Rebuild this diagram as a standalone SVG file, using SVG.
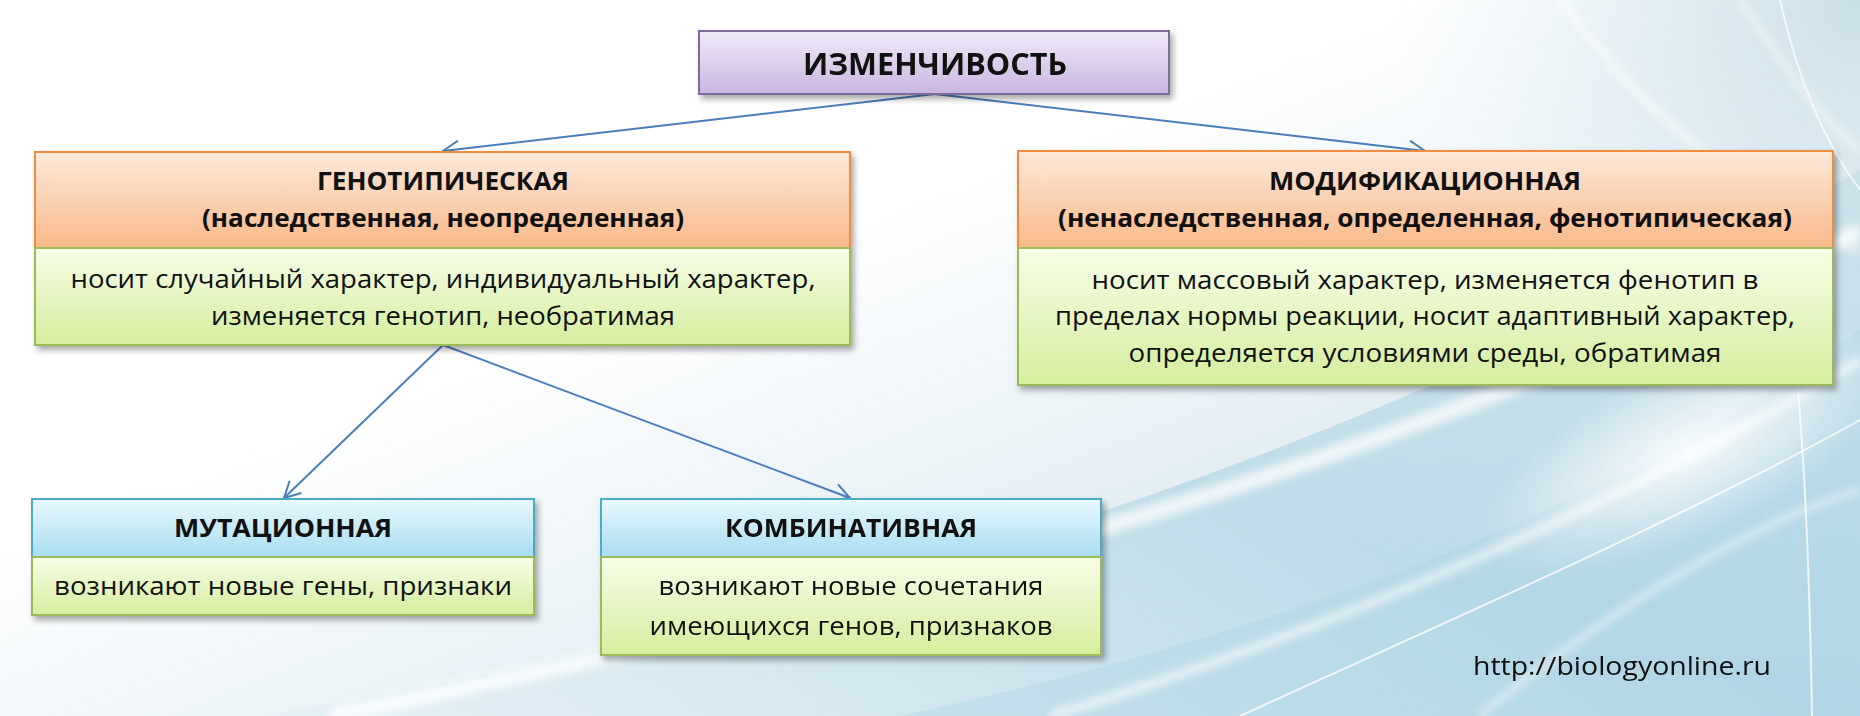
<svg xmlns="http://www.w3.org/2000/svg" width="1860" height="716" viewBox="0 0 1860 716">
<defs>
<style>
.t{font-family:"Open Sans","Liberation Sans",sans-serif;fill:#111;text-anchor:middle}
.b{font-weight:700}
.r{font-weight:400}
.conn{stroke:#4a7ebb;stroke-width:2;fill:none;marker-end:url(#ah)}
.sh{filter:url(#shadow)}
.pur{fill:url(#gPur);stroke:#7f6a9c;stroke-width:2}
.ora{fill:url(#gOra);stroke:#f08c40;stroke-width:2}
.grn{fill:url(#gGrn);stroke:#9bbb59;stroke-width:2}
.blu{fill:url(#gBlu);stroke:#4bacc6;stroke-width:2}
.streak{fill:none;stroke:#ffffff}
</style>
<marker id="ah" markerUnits="userSpaceOnUse" markerWidth="20" markerHeight="18" viewBox="0 0 20 18" refX="18" refY="9" orient="auto">
<path d="M2,0.5 L18,9 L2,17.5" fill="none" stroke="#4a7ebb" stroke-width="2"/>
</marker>
<filter id="shadow" x="-10%" y="-10%" width="120%" height="130%">
<feDropShadow dx="3" dy="4" stdDeviation="3" flood-color="#000" flood-opacity="0.35"/>
</filter>
<filter id="blur" x="-20%" y="-20%" width="140%" height="140%">
<feGaussianBlur stdDeviation="4"/>
</filter>
<linearGradient id="gPur" x1="0" y1="0" x2="0" y2="1"><stop offset="0" stop-color="#f2eafa"/><stop offset="1" stop-color="#c9b5de"/></linearGradient>
<linearGradient id="gOra" x1="0" y1="0" x2="0" y2="1"><stop offset="0" stop-color="#fde9da"/><stop offset="1" stop-color="#f8b98a"/></linearGradient>
<linearGradient id="gGrn" x1="0" y1="0" x2="0" y2="1"><stop offset="0" stop-color="#f7fde8"/><stop offset="1" stop-color="#d5ee9e"/></linearGradient>
<linearGradient id="gBlu" x1="0" y1="0" x2="0" y2="1"><stop offset="0" stop-color="#e9f8fd"/><stop offset="1" stop-color="#a8ddef"/></linearGradient>
<linearGradient id="bgBase" x1="0" y1="0" x2="1" y2="1"><stop offset="0" stop-color="#ffffff"/><stop offset="0.38" stop-color="#ffffff"/><stop offset="0.7" stop-color="#dfecf2"/><stop offset="1" stop-color="#bcd9e6"/></linearGradient>
<linearGradient id="band" x1="0" y1="1" x2="1" y2="0"><stop offset="0" stop-color="#e4f1f6"/><stop offset="0.5" stop-color="#b5d7e5"/><stop offset="1" stop-color="#c6dfe9"/></linearGradient>
<radialGradient id="glow" cx="0.5" cy="0.5" r="0.5"><stop offset="0" stop-color="#ffffff" stop-opacity="0.9"/><stop offset="1" stop-color="#ffffff" stop-opacity="0"/></radialGradient>
<radialGradient id="tint" cx="1" cy="0" r="1"><stop offset="0" stop-color="#c5dce6" stop-opacity="0.9"/><stop offset="1" stop-color="#dbeaf0" stop-opacity="0"/></radialGradient>
</defs>

<g id="background">
<rect width="1860" height="716" fill="url(#bgBase)"/>
<rect x="1400" y="0" width="460" height="420" fill="url(#tint)"/>
<path d="M260,716 C700,640 1250,520 1860,170 L1860,716 Z" fill="url(#band)" opacity="0.75"/>
<path d="M900,716 C1250,640 1600,520 1860,330 L1860,716 Z" fill="#a9d0e1" opacity="0.35"/>
<ellipse cx="1690" cy="450" rx="230" ry="85" fill="url(#glow)" transform="rotate(-25 1690 450)"/>
<g filter="url(#blur)">
<path class="streak" d="M330,716 C850,610 1400,470 1860,230" stroke-width="16" opacity="0.75"/>
<path class="streak" d="M1050,716 C1400,610 1680,470 1860,360" stroke-width="10" opacity="0.6"/>
<path class="streak" d="M1480,716 C1620,600 1760,520 1860,490" stroke-width="6" opacity="0.6"/>
<path class="streak" d="M1560,0 C1650,120 1760,210 1860,250" stroke-width="8" opacity="0.55"/>
<path class="streak" d="M1740,0 C1780,60 1820,120 1860,150" stroke-width="5" opacity="0.6"/>
</g>
<path class="streak" d="M1240,716 C1450,620 1680,520 1860,420" stroke-width="2" opacity="0.8"/>
<path class="streak" d="M1798,392 C1806,480 1810,600 1812,716" stroke-width="2" opacity="0.75"/>
<path class="streak" d="M1780,0 C1800,90 1830,150 1860,190" stroke-width="2" opacity="0.7"/>
</g>

<g id="connectors">
<line class="conn" x1="935" y1="94" x2="443" y2="151"/>
<line class="conn" x1="935" y1="94" x2="1425" y2="151"/>
<line class="conn" x1="443" y1="345" x2="284" y2="498"/>
<line class="conn" x1="443" y1="345" x2="850" y2="498"/>
</g>

<g id="node-izmenchivost">
<rect class="pur sh" x="699" y="31" width="470" height="63"/>
<text class="t b" x="935" y="75" font-size="30" textLength="264" lengthAdjust="spacingAndGlyphs">ИЗМЕНЧИВОСТЬ</text>
</g>

<g id="node-genotipicheskaya">
<rect class="grn sh" x="35" y="152" width="815" height="193"/>
<rect class="ora" x="35" y="152" width="815" height="96"/>
<rect class="grn" x="35" y="248" width="815" height="97"/>
<text class="t b" x="443" y="190" font-size="25" textLength="252" lengthAdjust="spacingAndGlyphs">ГЕНОТИПИЧЕСКАЯ</text>
<text class="t b" x="443" y="227" font-size="25" textLength="482" lengthAdjust="spacingAndGlyphs">(наследственная, неопределенная)</text>
<text class="t r" x="443" y="288" font-size="25" textLength="745" lengthAdjust="spacingAndGlyphs">носит случайный характер, индивидуальный характер,</text>
<text class="t r" x="443" y="325" font-size="25" textLength="464" lengthAdjust="spacingAndGlyphs">изменяется генотип, необратимая</text>
</g>

<g id="node-modifikatsionnaya">
<rect class="grn sh" x="1018" y="151" width="815" height="234"/>
<rect class="ora" x="1018" y="151" width="815" height="97"/>
<rect class="grn" x="1018" y="248" width="815" height="137"/>
<text class="t b" x="1425" y="190" font-size="25" textLength="312" lengthAdjust="spacingAndGlyphs">МОДИФИКАЦИОННАЯ</text>
<text class="t b" x="1425" y="227" font-size="25" textLength="734" lengthAdjust="spacingAndGlyphs">(ненаследственная, определенная, фенотипическая)</text>
<text class="t r" x="1425" y="289" font-size="25" textLength="667" lengthAdjust="spacingAndGlyphs">носит массовый характер, изменяется фенотип в</text>
<text class="t r" x="1425" y="325" font-size="25" textLength="740" lengthAdjust="spacingAndGlyphs">пределах нормы реакции, носит адаптивный характер,</text>
<text class="t r" x="1425" y="362" font-size="25" textLength="593" lengthAdjust="spacingAndGlyphs">определяется условиями среды, обратимая</text>
</g>

<g id="node-mutatsionnaya">
<rect class="grn sh" x="32" y="499" width="502" height="116"/>
<rect class="blu" x="32" y="499" width="502" height="58"/>
<rect class="grn" x="32" y="557" width="502" height="58"/>
<text class="t b" x="283" y="537" font-size="25" textLength="218" lengthAdjust="spacingAndGlyphs">МУТАЦИОННАЯ</text>
<text class="t r" x="283" y="595" font-size="25" textLength="458" lengthAdjust="spacingAndGlyphs">возникают новые гены, признаки</text>
</g>

<g id="node-kombinativnaya">
<rect class="grn sh" x="601" y="499" width="500" height="156"/>
<rect class="blu" x="601" y="499" width="500" height="58"/>
<rect class="grn" x="601" y="557" width="500" height="98"/>
<text class="t b" x="851" y="537" font-size="25" textLength="252" lengthAdjust="spacingAndGlyphs">КОМБИНАТИВНАЯ</text>
<text class="t r" x="851" y="595" font-size="25" textLength="385" lengthAdjust="spacingAndGlyphs">возникают новые сочетания</text>
<text class="t r" x="851" y="635" font-size="25" textLength="403" lengthAdjust="spacingAndGlyphs">имеющихся генов, признаков</text>
</g>

<text id="url" x="1473" y="675" font-family="'Open Sans','Liberation Sans',sans-serif" font-size="26" fill="#111" textLength="298" lengthAdjust="spacingAndGlyphs">http://biologyonline.ru</text>
</svg>
